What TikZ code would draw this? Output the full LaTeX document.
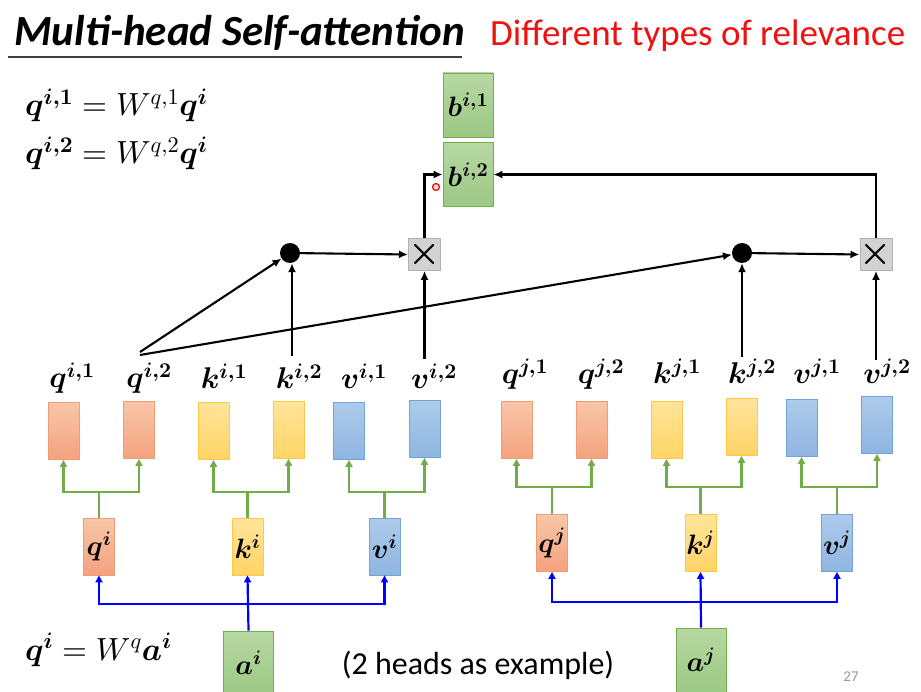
\documentclass[tikz,border=0pt]{standalone}
\usepackage{amsmath,bm}
\usepackage{fontspec}
\setmainfont{Carlito}
\DeclareFontShape{OML}{cmm}{m}{it}{<->cmmi10}{}
\DeclareFontShape{OML}{cmm}{b}{it}{<->cmmib10}{}
\DeclareFontShape{OMS}{cmsy}{m}{n}{<->cmsy10}{}
\DeclareFontShape{OMS}{cmsy}{b}{n}{<->cmbsy10}{}
\DeclareFontShape{OT1}{cmr}{m}{n}{<->cmr10}{}
\DeclareFontShape{OT1}{cmr}{bx}{n}{<->cmbx10}{}
\usetikzlibrary{arrows.meta,shapes.misc}
\definecolor{orT}{HTML}{F8C6A8}\definecolor{orB}{HTML}{F4A27E}\definecolor{orD}{HTML}{EE9E74}
\definecolor{yeT}{HTML}{FFE49A}\definecolor{yeB}{HTML}{FFD466}\definecolor{yeD}{HTML}{FFC848}
\definecolor{blT}{HTML}{ADCBEB}\definecolor{blB}{HTML}{8FB5E2}\definecolor{blD}{HTML}{72A2D8}
\definecolor{grT}{HTML}{B7D8A2}\definecolor{grB}{HTML}{9CC885}\definecolor{grD}{HTML}{74AE4C}
\definecolor{treeG}{HTML}{70AD47}
\definecolor{redT}{HTML}{F01010}
\tikzset{
  box/.style={draw, line width=0.8pt, inner sep=0pt, minimum width=31pt, minimum height=57pt},
  qbox/.style={box, draw=orD, top color=orT, bottom color=orB},
  kbox/.style={box, draw=yeD, top color=yeT, bottom color=yeB},
  vbox/.style={box, draw=blD, top color=blT, bottom color=blB},
  gbox/.style={box, draw=grD, top color=grT, bottom color=grB, minimum width=50pt, minimum height=64pt},
  xbox/.style={draw=gray!60, fill=gray!35, line width=0.8pt, minimum size=32pt, inner sep=0pt, font=\fontsize{36}{36}\selectfont},
  dotn/.style={circle, fill=black, minimum size=20pt, inner sep=0pt},
  lbl/.style={inner sep=0pt, anchor=base, font=\fontsize{30}{34}\selectfont},
  inl/.style={inner sep=0pt, font=\fontsize{28}{30}\selectfont},
  eqn/.style={anchor=base west, inner sep=0pt, font=\fontsize{32}{36}\selectfont},
  arr/.style={line width=2.1pt, -{Latex[length=9pt,width=8pt]}},
  gl/.style={line width=2.2pt, draw=treeG},
  ga/.style={gl, -{Triangle[length=7pt,width=7pt]}},
  ba/.style={line width=2.2pt, draw=blue, -{Triangle[length=7pt,width=7pt]}},
}
\begin{document}
\begin{tikzpicture}[x=1pt,y=-1pt]
\useasboundingbox (0,0) rectangle (921,692);
% title
\node[anchor=base west, inner sep=0pt, font=\fontsize{43}{46}\selectfont\bfseries\itshape] (title) at (14,46) {Multi-head Self-attention};
\draw[line width=1.2pt, draw=black!75] (8,57) -- (462,57);
\node[anchor=base west, inner sep=0pt, text=redT, font=\fontsize{37}{40}\selectfont] (sub) at (490,46) {Different types of relevance};
% equations
\node[eqn] (eq1) at (25,116) {$\bm{q^{i,1}}=W^{q,1}\bm{q^{i}}$};
\node[eqn] (eq2) at (25,164) {$\bm{q^{i,2}}=W^{q,2}\bm{q^{i}}$};
\node[eqn] (eq3) at (25,660) {$\bm{q^{i}}=W^{q}\bm{a^{i}}$};
% output boxes
\node[gbox, inl] (b1) at (468,105) {$\bm{b^{i,1}}$};
\node[gbox, inl] (b2) at (468,174.5) {$\bm{b^{i,2}}$};
% dots and products
\node[dotn] (d1) at (290,253) {};
\node[xbox] (x1) at (424.5,254.5) {$\bm{\times}$};
\node[dotn] (d2) at (742,253) {};
\node[xbox] (x2) at (876,254.5) {$\bm{\times}$};
% upper labels
\node[lbl] (lqi1) at (72,388) {$\bm{q^{i,1}}$};
\node[lbl] (lqi2) at (149,388) {$\bm{q^{i,2}}$};
\node[lbl] (lki1) at (224,389) {$\bm{k^{i,1}}$};
\node[lbl] (lki2) at (299,389) {$\bm{k^{i,2}}$};
\node[lbl] (lvi1) at (364,389) {$\bm{v^{i,1}}$};
\node[lbl] (lvi2) at (434,389) {$\bm{v^{i,2}}$};
\node[lbl] (lqj1) at (525,384) {$\bm{q^{j,1}}$};
\node[lbl] (lqj2) at (601,384) {$\bm{q^{j,2}}$};
\node[lbl] (lkj1) at (677,384) {$\bm{k^{j,1}}$};
\node[lbl] (lkj2) at (752,384) {$\bm{k^{j,2}}$};
\node[lbl] (lvj1) at (817,384) {$\bm{v^{j,1}}$};
\node[lbl] (lvj2) at (887,384) {$\bm{v^{j,2}}$};
% upper boxes
\node[qbox] (qi1) at (63.5,431) {};
\node[qbox] (qi2) at (139,430) {};
\node[kbox] (ki1) at (213.5,431) {};
\node[kbox] (ki2) at (288.5,430) {};
\node[vbox] (vi1) at (349,431) {};
\node[vbox] (vi2) at (424.5,429) {};
\node[qbox] (qj1) at (516.5,430) {};
\node[qbox] (qj2) at (591.5,430) {};
\node[kbox] (kj1) at (666.5,430) {};
\node[kbox] (kj2) at (741.5,427) {};
\node[vbox] (vj1) at (801.5,428) {};
\node[vbox] (vj2) at (877,425) {};
% lower boxes
\node[qbox, inl] (qi) at (99,546.5) {$\bm{q^{i}}$};
\node[kbox, inl] (ki) at (247.5,546.5) {$\bm{k^{i}}$};
\node[vbox, inl] (vi) at (384.5,546.5) {$\bm{v^{i}}$};
\node[qbox, inl] (qj) at (552,543) {$\bm{q^{j}}$};
\node[kbox, inl] (kj) at (700.5,543) {$\bm{k^{j}}$};
\node[vbox, inl] (vj) at (837,543) {$\bm{v^{j}}$};
\node[gbox, inl] (ai) at (248.5,663) {$\bm{a^{i}}$};
\node[gbox, inl] (aj) at (701,660) {$\bm{a^{j}}$};
% texts
\node[anchor=base, inner sep=0pt, font=\fontsize{32}{36}\selectfont] (note) at (478,674) {(2 heads as example)};
\node[anchor=base, inner sep=0pt, text=black!40, font=\fontsize{15}{16}\selectfont] (pg) at (851,681) {27};
% black connectors
\coordinate (qs1) at (140,352);
\coordinate (qs2) at (140,355);
\draw[arr] (qs1) -- (d1);
\draw[arr] (qs2) -- (d2);
\coordinate (ks1) at (292,356);
\draw[arr] (ks1) -- (ks1 |- d1.south);
\coordinate (vs1) at (424.5,359);
\draw[arr] (vs1) -- (x1.south);
\coordinate (ks2) at (742,357);
\draw[arr] (ks2) -- (d2.south);
\coordinate (vs2) at (876,360);
\draw[arr] (vs2) -- (x2.south);
\draw[arr] (d1) -- (x1.west);
\draw[arr] (d2) -- (x2.west);
\draw[arr] (x1.north) |- (b2.west);
\draw[arr] (x2.north) |- (b2.east);
% laser pointer mark
\node[circle, draw=red, line width=1.2pt, minimum size=7pt, inner sep=0pt, fill=red!15] (lp) at (436,187) {};
% green trees
\foreach \s/\a/\b/\y in {qi/qi1/qi2/492, ki/ki1/ki2/492, vi/vi1/vi2/492, qj/qj1/qj2/487, kj/kj1/kj2/487, vj/vj1/vj2/487}{
  \coordinate (J\s) at (\s.north |- 0,\y);
  \draw[gl] (\s.north) -- (J\s);
  \draw[ga] (J\s) -| (\a.south);
  \draw[ga] (J\s) -| (\b.south);
}
% blue trees
\coordinate (Bi) at (ai.north |- 0,604);
\draw[ba] (ai.north) -- (ki.south);
\draw[ba] (Bi) -| (qi.south);
\draw[ba] (Bi) -| (vi.south);
\coordinate (Bj) at (aj.north |- 0,602);
\draw[ba] (aj.north) -- (kj.south);
\draw[ba] (Bj) -| (qj.south);
\draw[ba] (Bj) -| (vj.south);
\end{tikzpicture}
\end{document}
